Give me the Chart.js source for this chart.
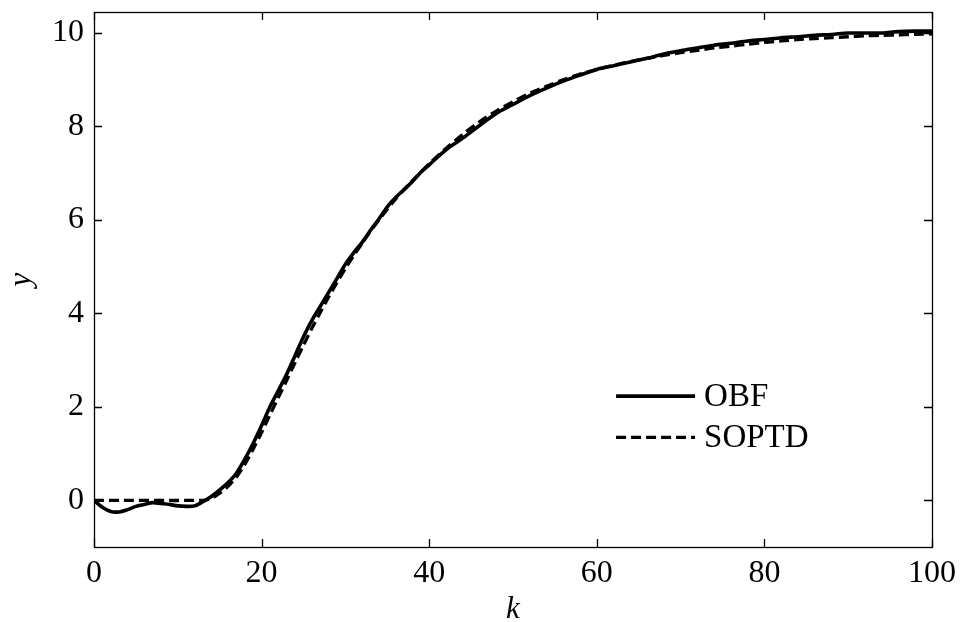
<!DOCTYPE html>
<html>
<head>
<meta charset="utf-8">
<script src="https://cdn.jsdelivr.net/npm/chart.js@4/dist/chart.umd.min.js"></script>
<style>
  html, body { margin: 0; padding: 0; background: #fff; }
  #wrap { width: 962px; height: 622px; position: relative; }
</style>
</head>
<body>
<div id="wrap"><canvas id="c" width="962" height="622"></canvas></div>
<script>
// Sample index k and step responses of the two models
const kOBF = [0,1,2,3,4,5,6,7,8,9,10,11,12,13,14,15,16,17,18,19,20,21,22,23,24,25,26,27,28,29,30,31,32,33,34,35,36,37,38,39,40,
  42,44,46,48,50,52,54,56,58,60,62,64,66,68,70,72,74,76,78,80,82,84,86,88,90,92,94,96,98,100];
const yOBF = [0,-0.15,-0.24,-0.25,-0.2,-0.13,-0.09,-0.05,-0.07,-0.09,-0.12,-0.13,-0.12,-0.03,0.08,0.22,0.38,0.58,0.88,1.22,1.6,
  2.0,2.35,2.7,3.1,3.5,3.85,4.15,4.45,4.75,5.05,5.3,5.52,5.78,6.02,6.28,6.48,6.65,6.82,7.02,7.18,
  7.5,7.75,8.02,8.28,8.47,8.66,8.82,8.97,9.1,9.22,9.3,9.38,9.46,9.55,9.62,9.68,9.74,9.78,9.83,9.86,
  9.9,9.92,9.95,9.97,10.0,10.0,10.0,10.03,10.04,10.04];

const kSOPTD = [0,13,14,15,16,17,18,19,20,21,22,23,24,25,26,27,28,29,30,31,32,33,34,35,36,37,38,39,40,
  42,44,46,48,50,52,54,56,58,60,62,64,66,68,70,72,74,76,78,80,82,84,86,88,90,92,94,96,98,100];
const ySOPTD = [0,0,0.04,0.15,0.3,0.5,0.77,1.1,1.45,1.83,2.2,2.57,2.95,3.32,3.68,4.02,4.35,4.66,4.96,5.24,5.5,5.76,6.0,6.23,6.45,6.65,6.84,7.02,7.2,
  7.53,7.83,8.1,8.33,8.53,8.71,8.86,9.0,9.12,9.22,9.31,9.39,9.46,9.52,9.58,9.63,9.68,9.72,9.76,9.8,
  9.83,9.86,9.88,9.9,9.92,9.94,9.95,9.96,9.97,9.98];

// Axis tick labels
const xTicks = [0, 20, 40, 60, 80, 100];
const yTicks = [0, 2, 4, 6, 8, 10];

const toPoints = (xs, ys) => xs.map((x, i) => ({ x: x, y: ys[i] }));

const SERIF = "'Liberation Serif', 'Times New Roman', serif";

// Boxed frame with inward ticks on all four sides
const framePlugin = {
  id: 'frame',
  afterDatasetsDraw(chart) {
    const { ctx, chartArea: a, scales } = chart;
    const tl = 8;
    ctx.save();
    ctx.strokeStyle = '#000';
    ctx.lineWidth = 1.3;
    ctx.beginPath();
    xTicks.forEach(v => {
      const px = Math.round(scales.x.getPixelForValue(v)) + 0.5;
      ctx.moveTo(px, a.bottom); ctx.lineTo(px, a.bottom - tl);
      ctx.moveTo(px, a.top); ctx.lineTo(px, a.top + tl);
    });
    yTicks.forEach(v => {
      const py = Math.round(scales.y.getPixelForValue(v)) + 0.5;
      ctx.moveTo(a.left, py); ctx.lineTo(a.left + tl, py);
      ctx.moveTo(a.right, py); ctx.lineTo(a.right - tl, py);
    });
    ctx.stroke();
    ctx.strokeRect(Math.round(a.left) + 0.5, Math.round(a.top) + 0.5,
                   Math.round(a.right - a.left), Math.round(a.bottom - a.top));
    ctx.restore();
  }
};

// Legend drawn inside the plot area, lower right
const legendPlugin = {
  id: 'innerLegend',
  afterDraw(chart) {
    const { ctx, chartArea: a } = chart;
    const x0 = a.left + (a.right - a.left) * 0.623;
    const lineLen = 79;
    const rows = [
      { y: a.top + (a.bottom - a.top) * 0.718, ds: chart.data.datasets[0] },
      { y: a.top + (a.bottom - a.top) * 0.795, ds: chart.data.datasets[1] }
    ];
    ctx.save();
    rows.forEach(r => {
      ctx.beginPath();
      ctx.strokeStyle = r.ds.borderColor;
      ctx.lineWidth = r.ds.borderWidth;
      ctx.setLineDash(r.ds.borderDash || []);
      ctx.moveTo(x0, r.y);
      ctx.lineTo(x0 + lineLen, r.y);
      ctx.stroke();
      ctx.setLineDash([]);
      ctx.fillStyle = '#000';
      ctx.font = '33px ' + SERIF;
      ctx.textAlign = 'left';
      ctx.textBaseline = 'middle';
      ctx.fillText(r.ds.label, x0 + lineLen + 9, r.y + 1);
    });
    ctx.restore();
  }
};

new Chart(document.getElementById('c'), {
  type: 'line',
  data: {
    datasets: [
      {
        label: 'OBF',
        data: toPoints(kOBF, yOBF),
        borderColor: '#000',
        borderWidth: 3.6,
        pointRadius: 0,
        tension: 0.3,
        fill: false
      },
      {
        label: 'SOPTD',
        data: toPoints(kSOPTD, ySOPTD),
        borderColor: '#000',
        borderWidth: 3.3,
        borderDash: [10, 5],
        pointRadius: 0,
        tension: 0.3,
        fill: false
      }
    ]
  },
  options: {
    responsive: false,
    animation: false,
    events: [],
    layout: { padding: { top: 12, right: 30, left: 0, bottom: 0 } },
    plugins: {
      legend: { display: false },
      tooltip: { enabled: false }
    },
    scales: {
      x: {
        type: 'linear',
        min: 0,
        max: 100,
        afterBuildTicks: s => { s.ticks = xTicks.map(v => ({ value: v })); },
        afterFit: s => { s.height = 75; s.paddingLeft = 0; s.paddingRight = 0; },
        grid: { display: false, drawTicks: false },
        border: { display: false },
        ticks: {
          padding: 7,
          color: '#000',
          maxRotation: 0,
          font: { family: SERIF, size: 32 }
        },
        title: {
          display: true,
          text: 'k',
          color: '#000',
          padding: { top: 0, bottom: 0 },
          font: { family: SERIF, size: 31, style: 'italic', lineHeight: 0.8 }
        }
      },
      y: {
        type: 'linear',
        min: -1,
        max: 10.45,
        afterBuildTicks: s => { s.ticks = yTicks.map(v => ({ value: v })); },
        afterFit: s => { s.width = 94; s.paddingTop = 0; s.paddingBottom = 0; },
        grid: { display: false, drawTicks: false },
        border: { display: false },
        ticks: {
          padding: 10,
          color: '#000',
          font: { family: SERIF, size: 32 }
        },
        title: {
          display: true,
          text: 'y',
          color: '#000',
          padding: { top: 3, bottom: 0 },
          font: { family: SERIF, size: 31, style: 'italic' }
        }
      }
    }
  },
  plugins: [framePlugin, legendPlugin]
});
</script>
</body>
</html>
